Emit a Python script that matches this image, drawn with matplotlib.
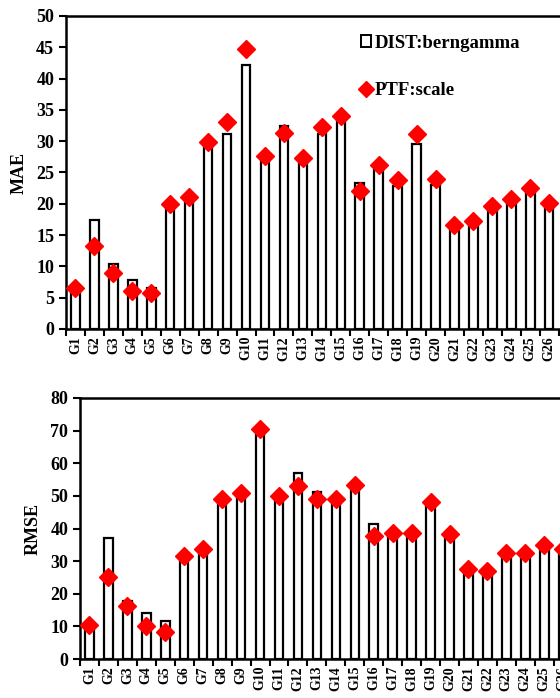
import numpy as np
import matplotlib
matplotlib.use("Agg")
import matplotlib.pyplot as plt
from matplotlib.patches import Patch
from matplotlib.lines import Line2D

plt.rcParams['font.family'] = ['Liberation Serif', 'DejaVu Serif']
plt.rcParams['font.weight'] = 'bold'

groups = ["G%d" % i for i in range(1, 27)]

mae_dist = [6.8, 17.4, 10.4, 7.9, 6.6, 19.8, 20.6, 29.4, 31.1, 42.1, 27.2, 32.4, 26.7,
            31.1, 33.4, 23.4, 25.4, 22.8, 29.6, 23.0, 15.8, 16.6, 19.1, 20.3, 21.9, 19.5]
mae_ptf = [6.6, 13.3, 8.9, 6.0, 5.7, 19.9, 21.1, 29.8, 33.0, 44.7, 27.7, 31.3, 27.3,
           32.3, 34.0, 22.1, 26.2, 23.8, 31.1, 24.0, 16.6, 17.2, 19.7, 20.7, 22.6, 20.1]

rmse_dist = [10.5, 37.0, 17.7, 14.1, 11.6, 30.9, 32.6, 48.2, 49.9, 68.6, 49.2, 56.9, 51.1,
             48.2, 52.3, 41.3, 37.5, 37.5, 47.2, 37.2, 26.3, 25.8, 31.4, 31.4, 33.9, 32.6]
rmse_ptf = [10.5, 25.1, 16.1, 10.0, 8.3, 31.7, 33.6, 49.0, 51.0, 70.6, 49.9, 53.0, 48.9,
            48.9, 53.2, 37.8, 38.5, 38.5, 48.2, 38.2, 27.6, 27.0, 32.4, 32.4, 35.0, 33.6]

W, H = 560, 698
fig = plt.figure(figsize=(W / 100, H / 100), dpi=100)

step = 18.95
ncat_view = 28


def panel(rect_px, dist, ptf, ymax, ystep, ylabel, legend=False):
    l, t, b = rect_px
    ax = fig.add_axes([l / W, (H - b) / H, ncat_view * step / W, (b - t) / H])
    x = np.arange(len(groups))
    ax.bar(x, dist, width=0.45, color='white', edgecolor='black', linewidth=1.6, zorder=2)
    ax.plot(x, ptf, linestyle='none', marker='D', markersize=9.5, color='red', zorder=3)
    ax.set_xlim(-0.5, ncat_view - 0.5)
    ax.set_ylim(0, ymax)
    ax.set_yticks(np.arange(0, ymax + 1, ystep))
    ax.set_xticks(x)
    ax.set_xticklabels(groups, rotation=90, fontsize=10, fontweight='bold')
    ax.set_xticks(np.arange(-0.5, ncat_view, 1), minor=True)
    ax.tick_params(axis='x', which='major', length=0, pad=5)
    ax.tick_params(axis='x', which='minor', length=5, width=1.5, direction='out')
    ax.tick_params(axis='y', length=5, width=1.5, direction='out', labelsize=13)
    for lab in ax.get_yticklabels():
        lab.set_fontweight('bold')
    for s in ax.spines.values():
        s.set_linewidth(1.8)
    ax.set_ylabel(ylabel, fontsize=13, fontweight='bold', labelpad=6)
    if legend:
        handles = [Patch(facecolor='white', edgecolor='black', linewidth=1.4),
                   Line2D([], [], linestyle='none', marker='D', markersize=8.5, color='red')]
        ax.legend(handles, ['DIST:berngamma', 'PTF:scale'], loc='upper left',
                  bbox_to_anchor=((361 - l) / (ncat_view * step), 1 - (35 - t) / (b - t)),
                  frameon=False, fontsize=13.5, handlelength=0.55, handleheight=0.6,
                  handletextpad=0.2, labelspacing=1.6, borderpad=0, borderaxespad=0)
    return ax


panel((66, 16, 329), mae_dist, mae_ptf, 50, 5, 'MAE', legend=True)
panel((80, 398, 659), rmse_dist, rmse_ptf, 80, 10, 'RMSE')

fig.savefig('out.png', dpi=100)
